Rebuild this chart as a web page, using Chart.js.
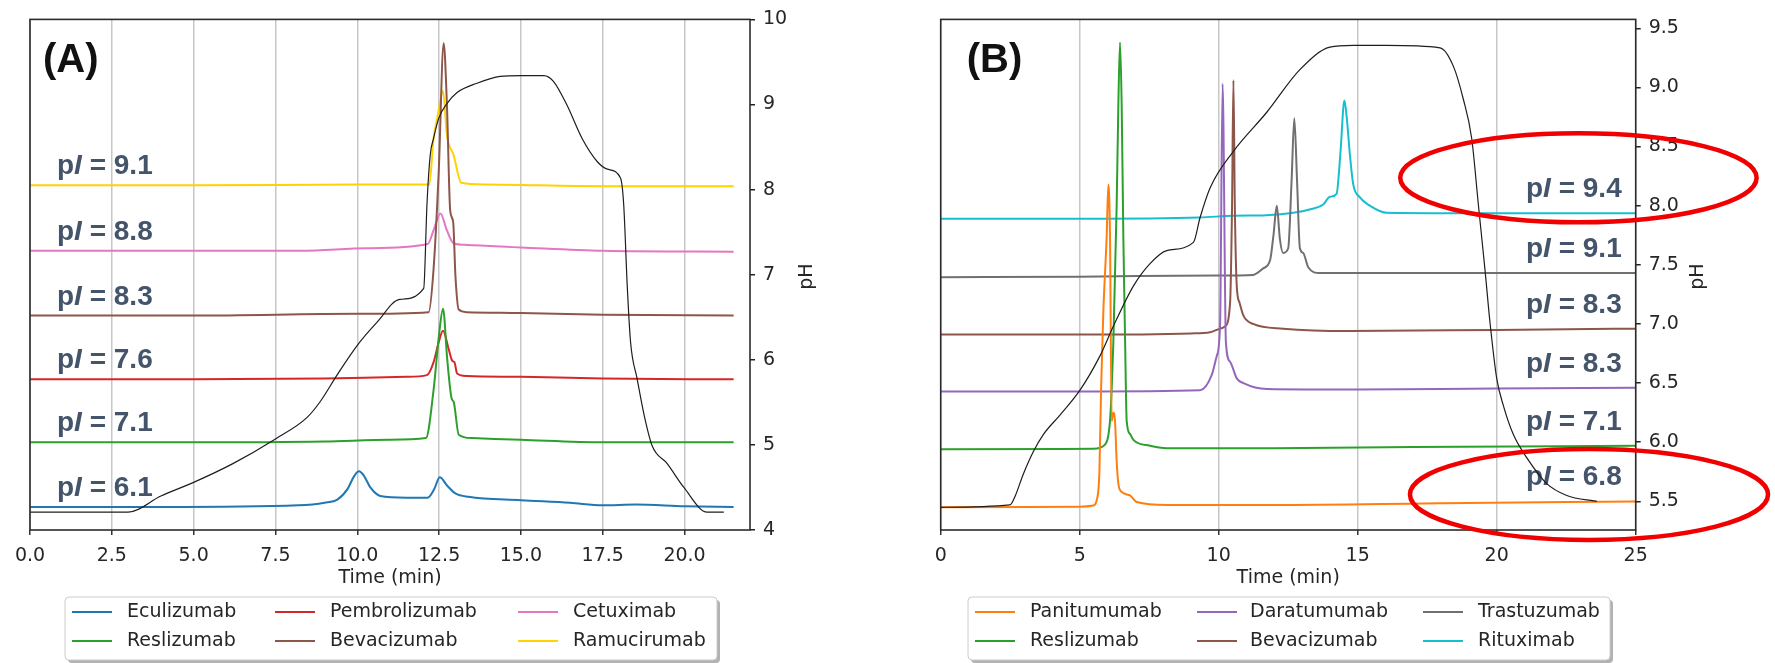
<!DOCTYPE html>
<html lang="en">
<head>
<meta charset="UTF-8">
<title>Chromatograms with pH gradient</title>
<script src="https://cdn.jsdelivr.net/npm/chart.js"></script>
<style>
  body { margin: 0; background: #fff; }
  .panel { position: absolute; top: 0; }
  #chartA { left: 0; }
  #chartB { left: 887px; }
</style>
</head>
<body>
<canvas id="chartA" class="panel" width="887" height="663"></canvas>
<canvas id="chartB" class="panel" width="888" height="663"></canvas>
<script>
// ---------- panel A (signals in pH-equivalent offset units) ----------
var namesA = ['Eculizumab', 'Reslizumab', 'Pembrolizumab', 'Bevacizumab', 'Cetuximab', 'Ramucirumab'];
var piA = [6.1, 7.1, 7.6, 8.3, 8.8, 9.1];

var ecuT = [0, 4, 8.2, 9.0, 9.4, 9.7, 9.9, 10.05, 10.2, 10.4, 10.7, 11.5, 12.15, 12.35, 12.52, 12.75, 13.0, 13.4, 15.0, 16.5, 17.5, 18.5, 20.0, 21.5];
var ecuV = [4.27, 4.27, 4.29, 4.32, 4.36, 4.48, 4.63, 4.69, 4.64, 4.50, 4.40, 4.38, 4.38, 4.48, 4.62, 4.52, 4.43, 4.39, 4.35, 4.32, 4.29, 4.30, 4.28, 4.27];

var reslAT = [0, 5, 9, 11, 12.1, 12.33, 12.5, 12.62, 12.75, 12.88, 12.95, 13.1, 13.5, 15, 17.5, 21.5];
var reslAV = [5.03, 5.03, 5.04, 5.06, 5.08, 5.64, 6.3, 6.6, 6.0, 5.55, 5.5, 5.12, 5.08, 5.06, 5.03, 5.03];

var pembT = [0, 5, 9, 11.5, 12.13, 12.33, 12.49, 12.62, 12.79, 12.9, 12.97, 13.05, 13.35, 15, 17.5, 21.5];
var pembV = [5.77, 5.77, 5.78, 5.80, 5.82, 5.97, 6.21, 6.34, 6.13, 5.99, 5.97, 5.84, 5.81, 5.80, 5.78, 5.77];

var bevaAT = [0, 5, 10, 12.18, 12.33, 12.49, 12.64, 12.74, 12.84, 12.93, 13.0, 13.1, 13.35, 15, 17.5, 21.5];
var bevaAV = [6.52, 6.52, 6.54, 6.56, 7.06, 8.22, 9.72, 8.99, 7.75, 7.62, 6.98, 6.59, 6.56, 6.55, 6.53, 6.52];

var cetuT = [0, 5, 8.3, 10.3, 12.15, 12.33, 12.54, 12.74, 12.94, 13.35, 15, 17.5, 21.5];
var cetuV = [7.28, 7.28, 7.28, 7.31, 7.36, 7.52, 7.72, 7.52, 7.37, 7.35, 7.32, 7.28, 7.27];

var ramuT = [0, 5, 10, 12.2, 12.33, 12.45, 12.62, 12.74, 12.94, 13.18, 13.9, 17.5, 21.5];
var ramuV = [8.05, 8.05, 8.06, 8.06, 8.6, 8.85, 9.16, 8.64, 8.41, 8.08, 8.06, 8.04, 8.04];

var phAT = [0, 3.0, 4.0, 5.0, 6.2, 7.5, 8.46, 8.87, 9.38, 10.04, 10.6, 11.3, 12.03, 12.13, 12.23, 12.33, 12.49, 12.74, 13.05, 13.66,
            14.37, 15.0, 15.7, 16.0, 16.41, 16.87, 17.33, 17.64, 18.04, 18.14, 18.25, 18.35, 18.55, 18.76, 19.01, 19.47, 19.98, 20.69, 21.2];
var phAV = [4.21, 4.21, 4.40, 4.56, 4.78, 5.07, 5.32, 5.51, 5.82, 6.19, 6.44, 6.71, 6.84, 7.83, 8.41, 8.60, 8.84, 9.01, 9.14, 9.25,
            9.33, 9.34, 9.34, 9.27, 8.99, 8.60, 8.33, 8.24, 8.14, 7.83, 6.86, 6.21, 5.78, 5.36, 4.99, 4.78, 4.50, 4.21, 4.21];

// ---------- panel B ----------
var namesB = ['Panitumumab', 'Reslizumab', 'Daratumumab', 'Bevacizumab', 'Trastuzumab', 'Rituximab'];
var piB = [6.8, 7.1, 8.3, 8.3, 9.1, 9.4];

var paniT = [0, 5.0, 5.49, 5.61, 5.71, 5.77, 5.85, 5.97, 6.03, 6.09, 6.15, 6.21, 6.27, 6.33, 6.39, 6.51, 6.81, 7.05, 8.13, 12, 18, 25];
var paniV = [5.45, 5.455, 5.465, 5.51, 5.76, 6.455, 7.1, 7.74, 8.18, 7.74, 6.18, 6.25, 6.18, 5.84, 5.65, 5.58, 5.55, 5.495, 5.47, 5.47, 5.485, 5.50];

var reslBT = [0, 5.49, 5.91, 6.09, 6.15, 6.21, 6.33, 6.39, 6.45, 6.51, 6.57, 6.63, 6.69, 6.81, 6.93, 7.53, 8.13, 12, 17, 25];
var reslBV = [5.94, 5.945, 5.98, 6.18, 6.45, 6.84, 8.01, 8.85, 9.38, 8.85, 7.73, 6.9, 6.18, 6.07, 6.02, 5.97, 5.95, 5.95, 5.96, 5.97];

var daraT = [0, 5, 9.33, 9.75, 9.93, 10.05, 10.14, 10.26, 10.41, 10.65, 10.89, 11.73, 15, 20, 25];
var daraV = [6.43, 6.43, 6.44, 6.57, 6.73, 7.0, 9.03, 6.84, 6.68, 6.54, 6.50, 6.45, 6.445, 6.455, 6.46];

var bevaBT = [0, 5, 9.0, 9.69, 10.05, 10.23, 10.41, 10.48, 10.53, 10.58, 10.65, 10.75, 10.89, 11.24, 12.32, 14.7, 20, 25];
var bevaBV = [6.91, 6.91, 6.92, 6.93, 6.96, 6.98, 7.18, 8.0, 9.06, 8.0, 7.32, 7.18, 7.07, 7.0, 6.96, 6.94, 6.95, 6.96];

var trasT = [0, 5, 10, 11.24, 11.6, 11.85, 11.97, 12.09, 12.2, 12.32, 12.5, 12.62, 12.72, 12.82, 12.92, 13.04, 13.22, 13.64, 15, 20, 25];
var trasV = [7.395, 7.40, 7.41, 7.415, 7.47, 7.54, 7.75, 8.0, 7.72, 7.6, 7.64, 8.2, 8.74, 8.2, 7.64, 7.6, 7.48, 7.43, 7.43, 7.43, 7.43];

var rituT = [0, 5, 9.3, 10.5, 11.7, 12.68, 13.3, 13.76, 14.0, 14.24, 14.38, 14.52, 14.6, 14.72, 14.84, 15.08, 15.44, 16.04, 20, 25];
var rituV = [7.89, 7.89, 7.90, 7.915, 7.92, 7.94, 7.97, 8.01, 8.075, 8.10, 8.45, 8.89, 8.76, 8.43, 8.18, 8.07, 8.0, 7.94, 7.935, 7.935];

var phBT = [0, 2.49, 2.67, 2.97, 3.33, 3.69, 4.29, 5.01, 5.73, 6.21, 6.93, 7.53, 8.13, 9.09, 9.33, 9.69, 10.53, 11.73, 12.92, 14.0,
            14.84, 16.04, 17.96, 18.44, 18.8, 19.1, 19.34, 19.58, 19.76, 20.0, 20.24, 20.6, 21.08, 21.8, 22.52, 23.6];
var phBV = [5.45, 5.47, 5.54, 5.73, 5.92, 6.065, 6.23, 6.44, 6.73, 6.98, 7.32, 7.51, 7.62, 7.69, 7.90, 8.15, 8.46, 8.79, 9.15, 9.34,
            9.355, 9.355, 9.335, 9.18, 8.90, 8.57, 8.01, 7.455, 7.01, 6.54, 6.31, 6.065, 5.87, 5.65, 5.55, 5.50];

var colorsA = ['#1f77b4', '#2ca02c', '#d62728', '#8c564b', '#e377c2', '#ffd200'];
var colorsB = ['#ff7f0e', '#2ca02c', '#9467bd', '#8c564b', '#707070', '#17becf'];

var TICK_FONT = { family: 'DejaVu Sans', size: 19 };

function pts(ts, vs) {
    return ts.map(function (t, i) { return { x: t, y: vs[i] }; });
}

function makeSets(names, times, values, colors, phT, phV) {
    var sets = names.map(function (n, i) {
        return { label: n, data: pts(times[i], values[i]), yAxisID: 'sig', borderColor: colors[i], borderWidth: 2, order: 1 };
    });
    // pH gradient on the right axis, drawn on top
    sets.push({ label: 'pH', data: pts(phT, phV), yAxisID: 'ph', borderColor: '#1e1e1e', borderWidth: 1.2, order: 0 });
    return sets;
}

function drawPi(ctx, val, x, y, align) {
    var bold = 'bold 28px "Liberation Sans", Arial, sans-serif';
    var ital = 'italic bold 28px "Liberation Sans", Arial, sans-serif';
    var rest = ' = ' + val.toFixed(1);
    ctx.font = bold;
    var wp = ctx.measureText('p').width, wr = ctx.measureText(rest).width;
    ctx.font = ital;
    var wi = ctx.measureText('I').width;
    var x0 = align === 'left' ? x : x - (wp + wi + wr);
    ctx.textAlign = 'left';
    ctx.textBaseline = 'alphabetic';
    ctx.font = bold; ctx.fillText('p', x0, y);
    ctx.font = ital; ctx.fillText('I', x0 + wp, y);
    ctx.font = bold; ctx.fillText(rest, x0 + wp + wi, y);
}

function decorations(cfg) {
    return {
        id: 'decor',
        beforeDatasetsDraw: function (chart) {
            var ctx = chart.ctx, a = chart.chartArea, sig = chart.scales.sig;
            ctx.save();
            ctx.fillStyle = '#44546a';
            cfg.pi.forEach(function (val, i) {
                var d = chart.data.datasets[i].data;
                var ref = cfg.piAlign === 'left' ? d[0] : d[d.length - 1];
                var x = cfg.piAlign === 'left' ? a.left + cfg.piInset : a.right - cfg.piInset;
                drawPi(ctx, val, x, sig.getPixelForValue(ref.y) - cfg.piLift, cfg.piAlign);
            });
            ctx.restore();
        },
        afterDraw: function (chart) {
            var ctx = chart.ctx, a = chart.chartArea;
            var xs = chart.scales.x, ph = chart.scales.ph;
            ctx.save();
            // frame
            ctx.strokeStyle = '#2b2b2b';
            ctx.lineWidth = 1.6;
            ctx.strokeRect(a.left, a.top, a.right - a.left, a.bottom - a.top);

            // axis titles
            ctx.fillStyle = '#262626';
            ctx.font = '19px "DejaVu Sans", sans-serif';
            ctx.textAlign = 'center';
            ctx.textBaseline = 'middle';
            ctx.fillText('Time (min)', (a.left + a.right) / 2, a.bottom + 48);
            ctx.save();
            ctx.translate(a.right + cfg.phGap, (a.top + a.bottom) / 2 + 2);
            ctx.rotate(-Math.PI / 2);
            ctx.fillText('pH', 0, 0);
            ctx.restore();

            // panel letter
            ctx.fillStyle = '#111';
            ctx.font = 'bold 40px "Liberation Sans", Arial, sans-serif';
            ctx.textAlign = 'left';
            ctx.textBaseline = 'alphabetic';
            ctx.fillText(cfg.letter, a.left + cfg.letterInset, a.top + 53);

            // legend
            var L = cfg.legend;
            ctx.fillStyle = 'rgba(0,0,0,0.3)';
            ctx.beginPath(); ctx.roundRect(L.x + 3, L.y + 3, L.w, L.h, 4); ctx.fill();
            ctx.fillStyle = '#fff';
            ctx.beginPath(); ctx.roundRect(L.x, L.y, L.w, L.h, 4); ctx.fill();
            ctx.strokeStyle = '#cccccc'; ctx.lineWidth = 1; ctx.stroke();
            ctx.font = '19px "DejaVu Sans", sans-serif';
            ctx.textBaseline = 'middle';
            L.cols.forEach(function (col, c) {
                col.forEach(function (di, r) {
                    var ds = chart.data.datasets[di], y = L.rowY[r];
                    ctx.strokeStyle = ds.borderColor; ctx.lineWidth = 2;
                    ctx.beginPath(); ctx.moveTo(L.lineX[c], y); ctx.lineTo(L.lineX[c] + 40, y); ctx.stroke();
                    ctx.fillStyle = '#262626';
                    ctx.fillText(ds.label, L.textX[c], y);
                });
            });

            // highlight rings
            (cfg.rings || []).forEach(function (r) {
                var cx = xs.getPixelForValue(r.t), cy = ph.getPixelForValue(r.v);
                var rx = xs.getPixelForValue(r.t + r.dt) - cx;
                var ry = cy - ph.getPixelForValue(r.v + r.dv);
                ctx.beginPath();
                ctx.ellipse(cx, cy, rx, ry, 0, 0, Math.PI * 2);
                ctx.strokeStyle = '#f00000'; ctx.lineWidth = 4.5;
                ctx.stroke();
            });
            ctx.restore();
        }
    };
}

function buildChart(id, cfg) {
    return new Chart(document.getElementById(id), {
        type: 'line',
        data: { datasets: cfg.datasets },
        options: {
            responsive: false,
            animation: false,
            events: [],
            layout: { padding: { left: cfg.padLeft, top: 13, right: 0, bottom: 0 } },
            plugins: { legend: { display: false }, tooltip: { enabled: false } },
            elements: {
                point: { radius: 0 },
                line: { fill: false, cubicInterpolationMode: 'monotone' }
            },
            scales: {
                x: {
                    type: 'linear', min: cfg.xMin, max: cfg.xMax,
                    ticks: {
                        stepSize: cfg.xStep, includeBounds: false, autoSkip: false, maxRotation: 0,
                        font: TICK_FONT, color: '#262626', padding: 10,
                        callback: function (v) { return v.toFixed(cfg.xDec); }
                    },
                    grid: { color: 'rgba(0,0,0,0.22)', lineWidth: 1.5, tickLength: 5, tickColor: '#333' },
                    border: { display: false },
                    afterFit: function (s) { s.height = 133; }
                },
                sig: { axis: 'y', position: 'left', display: false, min: cfg.yMin, max: cfg.yMax },
                ph: {
                    axis: 'y', position: 'right', min: cfg.yMin, max: cfg.yMax,
                    ticks: {
                        stepSize: cfg.yStep, includeBounds: false, font: TICK_FONT, color: '#262626', padding: 8,
                        callback: function (v) { return v.toFixed(cfg.yDec); }
                    },
                    grid: { drawOnChartArea: false, tickLength: 5, tickColor: '#222', lineWidth: 1.5 },
                    border: { display: false },
                    afterFit: function (s) { s.width = cfg.phWidth; }
                }
            }
        },
        plugins: [decorations(cfg)]
    });
}

buildChart('chartA', {
    datasets: makeSets(namesA, [ecuT, reslAT, pembT, bevaAT, cetuT, ramuT],
        [ecuV, reslAV, pembV, bevaAV, cetuV, ramuV], colorsA, phAT, phAV),
    pi: piA, piAlign: 'left', piInset: 27, piLift: 11,
    padLeft: 30, phWidth: 137, phGap: 57,
    xMin: 0, xMax: 22, xStep: 2.5, xDec: 1,
    yMin: 4, yMax: 10, yStep: 1, yDec: 0,
    letter: '(A)', letterInset: 13,
    legend: { x: 65, y: 597, w: 652, h: 63, lineX: [72, 275, 518], textX: [127, 330, 573], rowY: [612, 641],
              cols: [[0, 1], [2, 3], [4, 5]] }
});

buildChart('chartB', {
    datasets: makeSets(namesB, [paniT, reslBT, daraT, bevaBT, trasT, rituT],
        [paniV, reslBV, daraV, bevaBV, trasV, rituV], colorsB, phBT, phBV),
    pi: piB, piAlign: 'right', piInset: 14, piLift: 16,
    padLeft: 53.7, phWidth: 139.3, phGap: 62,
    xMin: 0, xMax: 25, xStep: 5, xDec: 0,
    yMin: 5.258, yMax: 9.575, yStep: 0.5, yDec: 1,
    letter: '(B)', letterInset: 26,
    legend: { x: 81, y: 597, w: 642, h: 63, lineX: [88, 310, 536], textX: [143, 363, 591], rowY: [612, 641],
              cols: [[0, 1], [2, 3], [4, 5]] },
    rings: [
        { t: 22.94, v: 8.236, dt: 6.41, dv: 0.376 },
        { t: 23.32, v: 5.558, dt: 6.44, dv: 0.384 }
    ]
});
</script>
</body>
</html>
